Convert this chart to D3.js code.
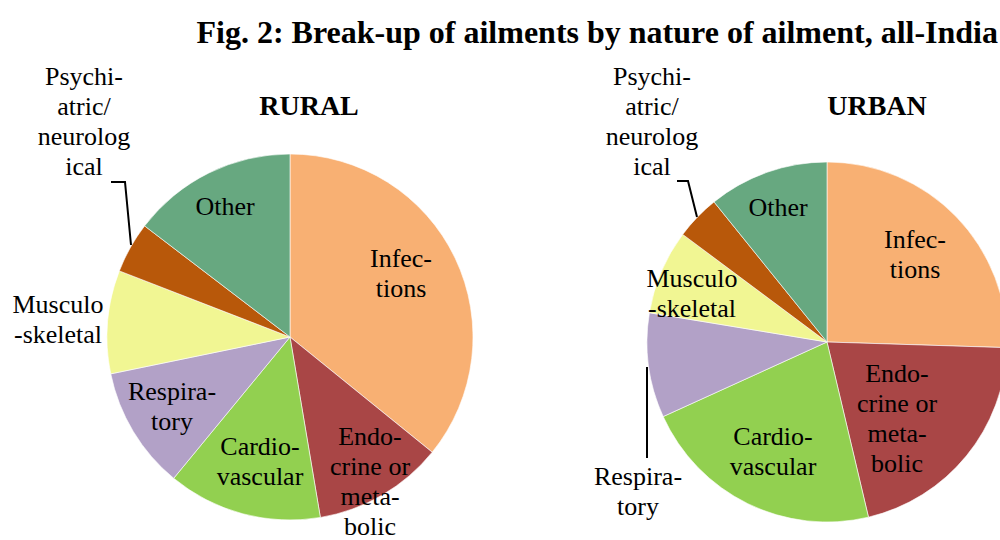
<!DOCTYPE html>
<html>
<head>
<meta charset="utf-8">
<script src="https://cdn.jsdelivr.net/npm/d3@7"></script>
<style>
  body { margin: 0; background: #fff; }
  svg { display: block; font-family: "Liberation Serif", "Times New Roman", serif; }
</style>
</head>
<body>
<div id="chart"></div>
<script>
// ailment categories, clockwise from 12 o'clock
const categories = ["Infections", "Endocrine or metabolic", "Cardiovascular", "Respiratory",
                    "Musculo-skeletal", "Psychiatric/neurological", "Other"];
const ruralShare = [35.8, 11.5, 13.6, 10.8, 9.1, 4.5, 14.6];
const urbanShare = [25.5, 20.8, 21.9, 9.4, 7.6, 4.0, 10.8];

const colors = ["#F8B073", "#A94646", "#92D050", "#B2A1C7", "#F1F693", "#B8580A", "#67A880"];

// label text lines (as wrapped in the source)
const labelLines = [
    ["Infec-", "tions"],
    ["Endo-", "crine or", "meta-", "bolic"],
    ["Cardio-", "vascular"],
    ["Respira-", "tory"],
    ["Musculo", "-skeletal"],
    ["Psychi-", "atric/", "neurolog", "ical"],
    ["Other"]
];

const width = 1000, height = 540;

const svg = d3.select("#chart")
    .append("svg")
    .attr("width", width)
    .attr("height", height);

svg.append("text")
    .attr("x", 998)
    .attr("y", 43)
    .attr("text-anchor", "end")
    .style("font-size", "32px")
    .style("font-weight", "bold")
    .text("Fig. 2: Break-up of ailments by nature of ailment, all-India");

// label anchors (relative to pie centre) and leader lines
const panels = [
    {
        title: "RURAL", values: ruralShare, cx: 290, cy: 337, r: 183, titleX: 309,
        labels: [[111, -70], [80, 108], [-30, 118], [-118, 63], [-232, -24], [-206, -252], [-65, -122]],
        leader: [[-179, -155], [-165, -155], [-159, -92]]
    },
    {
        title: "URBAN", values: urbanShare, cx: 827, cy: 342, r: 180, titleX: 877,
        labels: [[88, -94], [70, 40], [-54, 103], [-189, 143], [-135, -55], [-175, -257], [-49, -126]],
        leader: [[-150, -161], [-139, -161], [-130, -125]]
    }
];
// the urban Respiratory label has a vertical leader
const urbanRespLeader = [[-180, 25], [-180, 116]];

const pie = d3.pie().sort(null).value(d => d);

panels.forEach((p, pi) => {
    const arc = d3.arc().innerRadius(0).outerRadius(p.r);
    const g = svg.append("g").attr("transform", `translate(${p.cx},${p.cy})`);

    g.selectAll("path")
        .data(pie(p.values))
        .enter()
        .append("path")
        .attr("d", arc)
        .attr("fill", (d, i) => colors[i])
        .attr("stroke", "#fff")
        .attr("stroke-width", 0.6);

    svg.append("text")
        .attr("x", p.titleX)
        .attr("y", 115)
        .attr("text-anchor", "middle")
        .style("font-size", "28px")
        .style("font-weight", "bold")
        .text(p.title);

    const lineGen = d3.line();
    g.append("path")
        .attr("d", lineGen(p.leader))
        .attr("fill", "none")
        .attr("stroke", "#000")
        .attr("stroke-width", 2);
    if (pi === 1) {
        g.append("path")
            .attr("d", lineGen(urbanRespLeader))
            .attr("fill", "none")
            .attr("stroke", "#000")
            .attr("stroke-width", 2);
    }

    labelLines.forEach((lines, i) => {
        const [lx, ly] = p.labels[i];
        const t = g.append("text")
            .attr("text-anchor", "middle")
            .style("font-size", "26px")
            .attr("fill", "#000");
        lines.forEach((ln, k) => {
            t.append("tspan")
                .attr("x", lx)
                .attr("y", ly + k * 30)
                .text(ln);
        });
    });
});
</script>
</body>
</html>
